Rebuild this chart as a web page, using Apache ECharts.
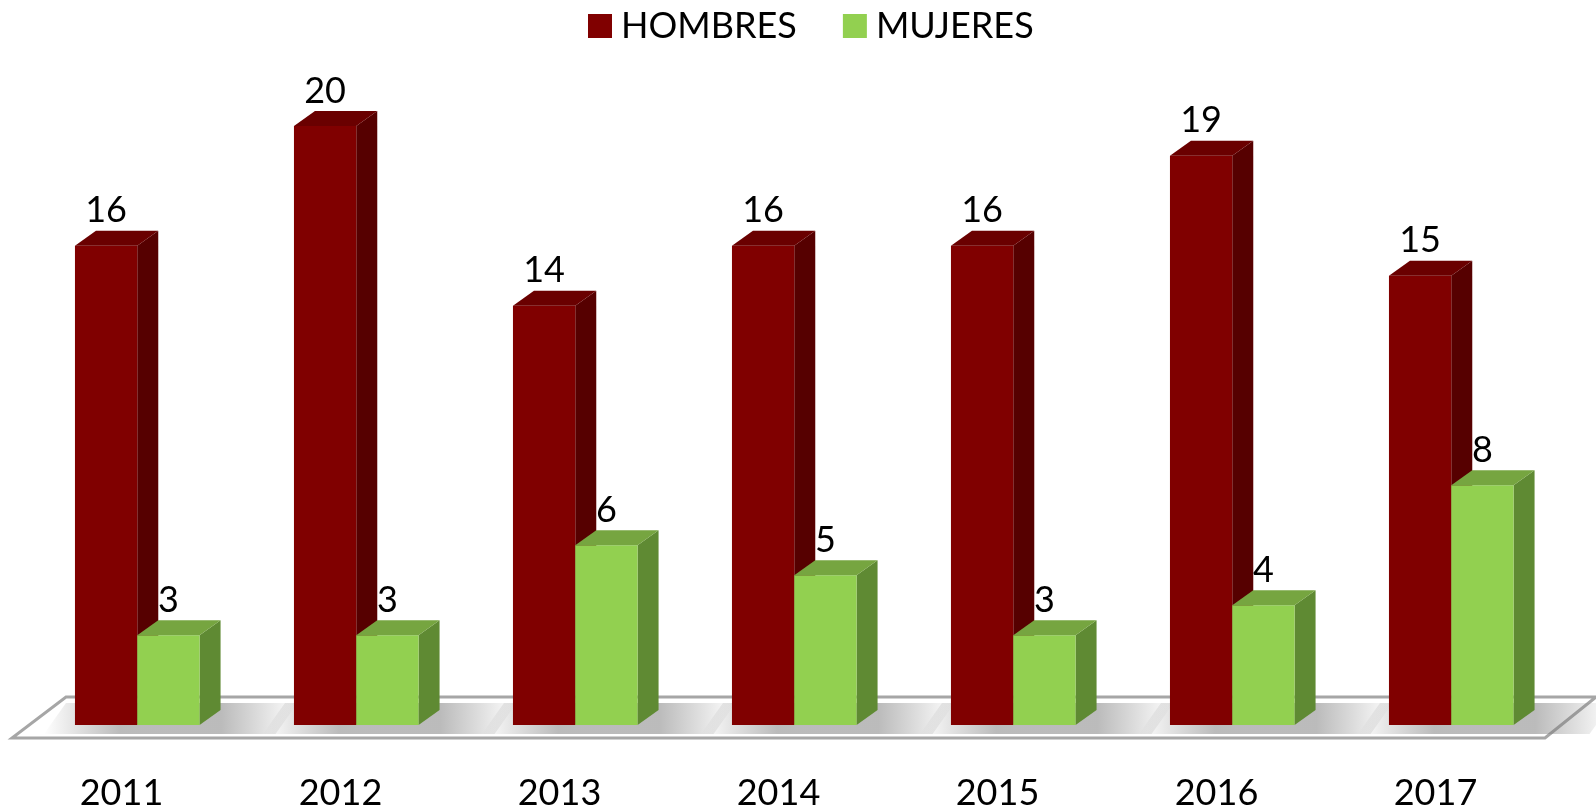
<!DOCTYPE html>
<html>
<head>
<meta charset="utf-8">
<script src="https://cdn.jsdelivr.net/npm/echarts@6/dist/echarts.min.js"></script>
<style>
html,body{margin:0;padding:0;background:#fff;}
#chart{width:1596px;height:811px;}
</style>
</head>
<body>
<div id="chart"></div>
<script>
var categories = ['2011','2012','2013','2014','2015','2016','2017'];
var hombres = [16, 20, 14, 16, 16, 19, 15];
var mujeres = [3, 3, 6, 5, 3, 4, 8];
var seriesNames = ['HOMBRES', 'MUJERES'];

var FONT = 'Lato';
var palette = [
  {front:'#800000', side:'#560000', top:'#6a0000'},
  {front:'#92D050', side:'#5F8A33', top:'#76A540'}
];
var DX = 21, DY = 15;

function barRenderer(idx){
  var c = palette[idx];
  return function(params, api){
    var cat = api.value(0), v = api.value(1);
    var base = api.coord([cat, 0]);
    var top = api.coord([cat, v]);
    var band = api.size([1, 0])[0];
    var w = band * 0.2845;
    var x0 = base[0] - band * 0.2125 + idx * w;
    var x1 = x0 + w, yb = base[1], yt = top[1];
    return {
      type:'group',
      children:[
        {type:'polygon', shape:{points:[[x1,yt],[x1+DX,yt-DY],[x1+DX,yb-DY],[x1,yb]]}, style:{fill:c.side}},
        {type:'rect', shape:{x:x0, y:yt, width:w, height:yb-yt}, style:{fill:c.front}},
        {type:'polygon', shape:{points:[[x0,yt],[x1,yt],[x1+DX,yt-DY],[x0+DX,yt-DY]]}, style:{fill:c.top}},
        {type:'text', style:{text:String(v), x:x0 + w/2, y:yt - DY - 2, align:'center', verticalAlign:'bottom',
          fontSize:36, fontFamily:FONT, fill:'#000'}}
      ]
    };
  };
}

function floorRenderer(params, api){
  var cs = params.coordSys;
  var yb = cs.y + cs.height;
  var band = api.size([1,0])[0];
  var xl = cs.x, xr = cs.x + cs.width;
  var yf = yb + 13, yk = yb - 28;
  var children = [];
  children.push({type:'polygon', shape:{points:[[xl,yf],[xr,yf],[xr+51,yk],[xl+54,yk]]},
    style:{fill:'#ffffff', stroke:'#a6a6a6', lineWidth:3}});
  for (var i = 0; i < categories.length; i++){
    var c = api.coord([i, 0])[0];
    var gx0 = c - band*0.2125 - 45, gx1 = c - band*0.2125 + 2*band*0.2845 + DX + 55;
    children.push({type:'polygon', shape:{points:[[gx0+14,yb+9],[gx1,yb+9],[gx1+22,yb-22],[gx0+36,yb-22]]},
      style:{fill:{type:'linear', x:0, y:0, x2:1, y2:0, colorStops:[
        {offset:0, color:'rgba(120,120,120,0)'},
        {offset:0.3, color:'rgba(120,120,120,0.5)'},
        {offset:0.7, color:'rgba(120,120,120,0.5)'},
        {offset:1, color:'rgba(120,120,120,0)'}]}}});
  }
  return {type:'group', children:children};
}

var chart = echarts.init(document.getElementById('chart'));
chart.setOption({
  backgroundColor:'#fff',
  animation:false,
  legend:{
    data:seriesNames, left:588, top:8, padding:0, icon:'rect', itemWidth:24, itemHeight:24, itemGap:46,
    textStyle:{fontSize:36, fontFamily:FONT, color:'#000', padding:[0,0,0,4]}
  },
  grid:{left:12, right:51, top:66, bottom:85},
  xAxis:{
    type:'category', data:categories,
    axisLine:{show:false}, axisTick:{show:false},
    axisLabel:{fontSize:36, fontFamily:FONT, color:'#000', margin:50, lineHeight:36}
  },
  yAxis:{type:'value', min:0, max:22, show:false, splitLine:{show:false}},
  series:[
    {type:'custom', name:'floor', renderItem:floorRenderer, data:[[0,0]], z:1, silent:true},
    {type:'custom', name:seriesNames[0], renderItem:barRenderer(0), itemStyle:{color:palette[0].front},
      data:hombres.map(function(v,i){return [i,v];}), z:2},
    {type:'custom', name:seriesNames[1], renderItem:barRenderer(1), itemStyle:{color:palette[1].front},
      data:mujeres.map(function(v,i){return [i,v];}), z:3}
  ]
});
</script>
</body>
</html>
